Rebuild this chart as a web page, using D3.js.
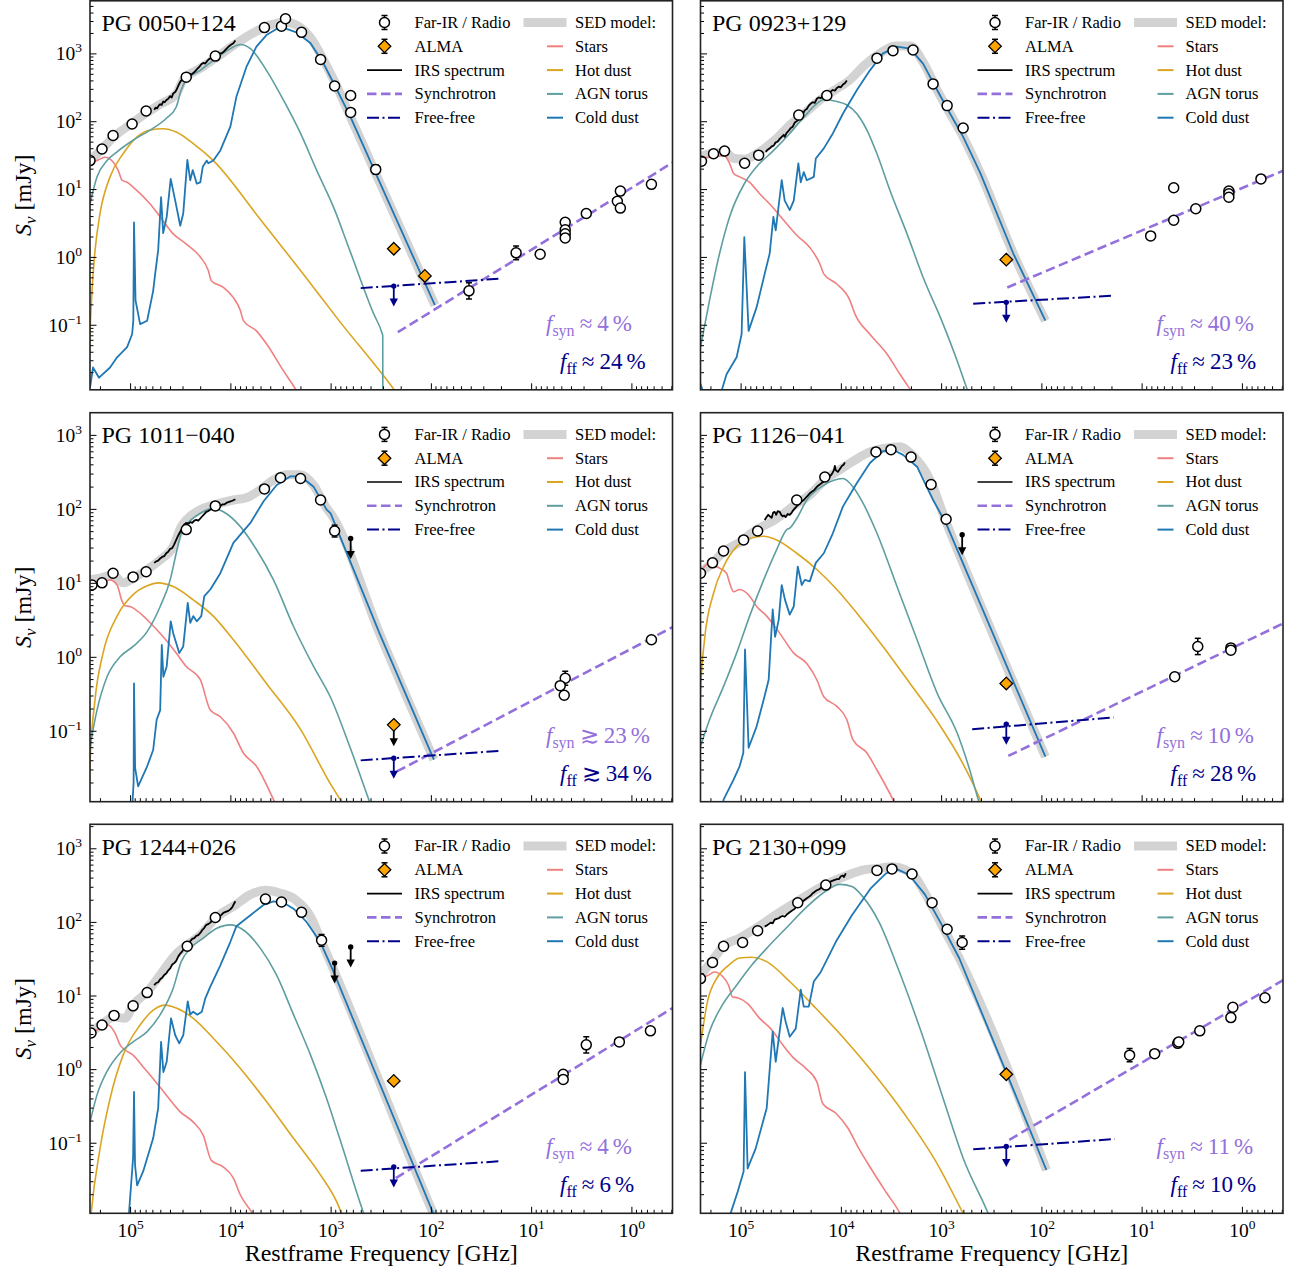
<!DOCTYPE html>
<html><head><meta charset="utf-8">
<script src="https://cdn.jsdelivr.net/npm/d3@7"></script>
<style>
 body{margin:0;background:#fff}
 svg{display:block}
 text{font-family:"Liberation Serif","Times New Roman",Times,serif}
</style></head><body>
<svg id="chart" width="1291" height="1270"></svg>
<script>
// Far-IR to radio spectral energy distributions of six PG quasars.
// Curves and points are [log10(nu / GHz), log10(S_nu / mJy)]; photometry adds an error in dex.

const sourceNames = ["PG 0050+124", "PG 0923+129", "PG 1011\u2212040", "PG 1126\u2212041", "PG 1244+026", "PG 2130+099"];
const synFraction = [["\u2248", 4], ["\u2248", 40], ["\u2273", 23], ["\u2248", 10], ["\u2248", 4], ["\u2248", 11]];
const ffFraction  = [["\u2248", 24], ["\u2248", 23], ["\u2273", 34], ["\u2248", 28], ["\u2248", 6], ["\u2248", 10]];
const freqTicks = [1e5, 1e4, 1e3, 1e2, 1e1, 1e0];
const fluxTicks = [1e-1, 1e0, 1e1, 1e2, 1e3];
const legendLeft = ["Far-IR / Radio", "ALMA", "IRS spectrum", "Synchrotron", "Free-free"];
const legendRight = ["SED model:", "Stars", "Hot dust", "AGN torus", "Cold dust"];

// ---------- PG 0050+124 ----------
const stars0050 = [[5.40,1.38],[5.33,1.42],[5.25,1.47],[5.17,1.40],[5.12,1.28],[5.08,1.13],[5.03,1.10],[4.97,1.03],[4.80,0.78],[4.70,0.59],[4.57,0.34],[4.44,0.19],[4.30,0.00],[4.22,-0.20],[4.19,-0.35],[4.07,-0.45],[3.97,-0.60],[3.90,-0.79],[3.87,-0.94],[3.74,-1.09],[3.64,-1.28],[3.47,-1.68],[3.35,-1.95],[3.20,-2.35]];
const hotDust0050 = [[5.41,-1.6],[5.40,-1.13],[5.38,-0.50],[5.35,0.09],[5.30,0.64],[5.20,1.18],[5.07,1.52],[4.93,1.77],[4.80,1.87],[4.67,1.89],[4.54,1.84],[4.37,1.67],[4.17,1.42],[3.70,0.55],[3.30,-0.20],[2.91,-0.95],[2.37,-1.95],[2.20,-2.3]];
const torus0050 = [[5.40,0.78],[5.33,1.18],[5.23,1.42],[5.13,1.55],[4.97,1.72],[4.80,1.87],[4.64,2.04],[4.54,2.21],[4.49,2.46],[4.44,2.61],[4.30,2.75],[4.14,2.93],[4.00,3.07],[3.90,3.13],[3.80,3.07],[3.64,2.75],[3.47,2.31],[3.30,1.82],[3.14,1.28],[2.97,0.73],[2.81,0.10],[2.57,-0.84],[2.49,-1.11],[2.48,-1.16],[2.479,-2.5]];
const coldDust0050 = [[5.40,-1.93],[5.37,-1.63],[5.31,-1.78],[5.20,-1.63],[5.13,-1.48],[5.03,-1.33],[4.98,-1.14],[4.968,-0.94],[4.961,0.51],[4.946,-0.64],[4.90,-0.99],[4.83,-0.94],[4.77,-0.50],[4.75,-0.25],[4.72,0.10],[4.691,0.88],[4.67,0.35],[4.635,0.59],[4.595,1.15],[4.55,0.83],[4.50,0.46],[4.47,0.64],[4.429,1.43],[4.40,1.13],[4.375,1.28],[4.335,1.08],[4.30,1.10],[4.275,1.33],[4.235,1.42],[4.22,1.38],[4.17,1.42],[4.10,1.57],[4.00,1.92],[3.94,2.36],[3.84,2.80],[3.74,3.10],[3.64,3.27],[3.54,3.36],[3.44,3.36],[3.34,3.31],[3.20,3.15],[3.07,2.85],[2.97,2.56],[2.81,2.09],[2.55,1.23],[1.96,-0.71]];
const sedModel0050 = [[5.40,1.42],[5.28,1.59],[5.17,1.76],[4.98,1.97],[4.84,2.12],[4.70,2.25],[4.54,2.40],[4.47,2.61],[4.30,2.78],[4.15,2.93],[3.95,3.14],[3.75,3.32],[3.60,3.42],[3.45,3.46],[3.32,3.40],[3.20,3.23],[3.07,2.90],[2.97,2.61],[2.81,2.09],[2.55,1.23],[1.96,-0.71]];
const irs0050 = [[4.76,2.17],[4.745,2.20],[4.73,2.19],[4.715,2.23],[4.70,2.25],[4.685,2.24],[4.67,2.29],[4.655,2.28],[4.64,2.31],[4.62,2.33],[4.60,2.37],[4.585,2.35],[4.57,2.41],[4.55,2.43],[4.535,2.47],[4.52,2.52],[4.50,2.58],[4.485,2.61],[4.47,2.64],[4.45,2.67],[4.43,2.68],[4.41,2.70],[4.39,2.69],[4.37,2.71],[4.35,2.74],[4.33,2.77],[4.31,2.80],[4.29,2.84],[4.27,2.86],[4.25,2.85],[4.23,2.89],[4.21,2.92],[4.19,2.93],[4.17,2.94],[4.15,2.96],[4.13,2.98],[4.11,3.00],[4.09,3.00],[4.07,3.02],[4.05,3.05],[4.03,3.08],[4.01,3.11],[3.99,3.13],[3.97,3.15],[3.95,3.19]];
const photometry0050 = [[5.40,1.42,0],[5.28,1.59,0],[5.17,1.79,0],[4.98,1.96,0],[4.84,2.15,0],[4.44,2.65,0],[4.15,2.96,0],[3.66,3.38,0],[3.49,3.40,0],[3.45,3.51,0],[3.29,3.31,0],[3.10,2.91,0],[2.96,2.52,0],[2.80,2.38,0],[2.80,2.13,0],[2.55,1.29,0.07],[1.62,-0.50,0.12],[1.15,0.06,0.10],[0.91,0.04,0],[0.66,0.51,0],[0.66,0.40,0],[0.66,0.34,0],[0.66,0.28,0],[0.45,0.64,0],[0.11,0.97,0],[0.14,0.82,0],[0.11,0.72,0],[-0.20,1.07,0]];
const limits0050 = [];
const alma0050 = [[2.37,0.12],[2.06,-0.28]];
const freeFree0050 = [[2.70,-0.46],[1.30,-0.32]];
const freeFreeLimit0050 = [2.37,-0.43];
const synchrotron0050 = [[2.33,-1.11],[-0.41,1.39]];

// ---------- PG 0923+129 ----------
const stars0923 = [[5.40,1.47],[5.27,1.47],[5.17,1.50],[5.11,1.38],[5.07,1.23],[5.01,1.18],[4.91,1.10],[4.81,0.93],[4.71,0.78],[4.57,0.54],[4.44,0.32],[4.31,0.14],[4.21,-0.10],[4.17,-0.25],[4.04,-0.40],[3.91,-0.64],[3.86,-0.84],[3.71,-1.14],[3.54,-1.43],[3.41,-1.73],[3.31,-1.95],[3.15,-2.3]];
const hotDust0923 = [];
const torus0923 = [[5.40,-1.33],[5.31,-0.64],[5.21,0.05],[5.11,0.59],[4.97,1.06],[4.84,1.33],[4.67,1.57],[4.51,1.82],[4.37,2.06],[4.24,2.26],[4.17,2.32],[4.04,2.29],[3.94,2.24],[3.84,2.11],[3.74,1.87],[3.64,1.52],[3.51,0.98],[3.34,0.34],[3.18,-0.30],[2.98,-0.99],[2.84,-1.53],[2.74,-1.95],[2.60,-2.4]];
const coldDust0923 = [[5.40,-1.87],[5.36,-2.05],[5.20,-2.05],[5.185,-1.95],[5.14,-1.73],[5.04,-1.48],[4.99,-1.14],[4.963,0.29],[4.92,-1.09],[4.84,-0.74],[4.76,-0.25],[4.71,0.05],[4.673,0.59],[4.65,0.39],[4.59,1.13],[4.56,0.83],[4.51,0.69],[4.47,0.83],[4.424,1.38],[4.40,1.10],[4.37,1.25],[4.34,1.13],[4.27,1.18],[4.25,1.45],[4.17,1.60],[4.08,1.82],[3.98,2.11],[3.84,2.46],[3.71,2.75],[3.58,3.00],[3.44,3.10],[3.31,3.07],[3.18,2.85],[3.04,2.46],[2.91,2.11],[2.78,1.77],[2.61,1.24],[2.28,0.05],[1.96,-0.94]];
const sedModel0923 = [[5.40,1.48],[5.28,1.53],[5.16,1.54],[5.06,1.45],[4.96,1.44],[4.81,1.55],[4.66,1.72],[4.51,1.94],[4.36,2.12],[4.21,2.31],[4.06,2.46],[3.91,2.61],[3.76,2.83],[3.61,3.00],[3.46,3.11],[3.31,3.11],[3.18,2.87],[3.04,2.46],[2.91,2.11],[2.78,1.77],[2.61,1.24],[2.28,0.05],[1.96,-0.94]];
const irs0923 = [[4.75,1.55],[4.73,1.58],[4.71,1.60],[4.69,1.63],[4.67,1.64],[4.65,1.69],[4.63,1.70],[4.61,1.74],[4.59,1.77],[4.57,1.80],[4.56,1.77],[4.54,1.83],[4.52,1.86],[4.50,1.90],[4.48,1.92],[4.46,1.98],[4.44,2.00],[4.42,2.03],[4.40,2.08],[4.38,2.10],[4.36,2.16],[4.34,2.18],[4.32,2.23],[4.30,2.26],[4.28,2.28],[4.26,2.27],[4.24,2.33],[4.22,2.35],[4.20,2.34],[4.18,2.38],[4.16,2.39],[4.14,2.42],[4.12,2.40],[4.10,2.44],[4.08,2.46],[4.06,2.45],[4.04,2.49],[4.02,2.51],[4.00,2.50],[3.98,2.54],[3.96,2.56],[3.94,2.60]];
const photometry0923 = [[5.39,1.41,0],[5.27,1.52,0],[5.16,1.56,0],[4.96,1.38,0],[4.82,1.50,0],[4.42,2.09,0],[4.14,2.38,0],[3.64,2.93,0],[3.48,3.04,0],[3.28,3.05,0],[3.08,2.55,0],[2.94,2.23,0],[2.78,1.90,0],[0.91,0.31,0],[0.68,1.02,0],[0.68,0.54,0],[0.46,0.71,0],[0.13,0.97,0],[0.13,0.93,0],[0.13,0.88,0],[-0.19,1.15,0]];
const limits0923 = [];
const alma0923 = [[2.35,-0.04]];
const freeFree0923 = [[2.68,-0.69],[1.28,-0.57]];
const freeFreeLimit0923 = [2.35,-0.67];
const synchrotron0923 = [[2.34,-0.45],[-0.41,1.27]];

// ---------- PG 1011-040 ----------
const stars1011 = [[5.40,1.02],[5.30,1.00],[5.20,1.04],[5.13,0.97],[5.08,0.75],[5.05,0.69],[5.00,0.68],[4.90,0.59],[4.80,0.46],[4.67,0.27],[4.54,0.05],[4.44,-0.13],[4.30,-0.31],[4.20,-0.72],[4.10,-0.81],[3.97,-1.03],[3.87,-1.30],[3.74,-1.48],[3.57,-1.93],[3.45,-2.3]];
const hotDust1011 = [[5.41,-1.9],[5.40,-1.44],[5.35,-0.58],[5.27,0.05],[5.13,0.55],[4.97,0.84],[4.83,0.96],[4.72,1.00],[4.57,0.95],[4.37,0.77],[4.17,0.55],[3.97,0.23],[3.64,-0.36],[3.30,-0.98],[3.005,-1.71],[2.905,-1.93],[2.75,-2.3]];
const torus1011 = [[5.40,-1.21],[5.33,-0.72],[5.23,-0.27],[5.10,0.00],[4.97,0.14],[4.83,0.34],[4.70,0.68],[4.60,1.04],[4.54,1.40],[4.49,1.67],[4.44,1.78],[4.30,1.94],[4.17,2.01],[4.07,1.96],[3.90,1.76],[3.74,1.45],[3.57,1.04],[3.37,0.41],[3.17,-0.13],[3.00,-0.55],[2.81,-1.21],[2.62,-1.93],[2.50,-2.4]];
const coldDust1011 = [[4.99,-2.3],[4.965,-1.7],[4.961,-0.36],[4.95,-1.50],[4.92,-1.75],[4.83,-1.48],[4.77,-1.26],[4.735,-0.85],[4.70,-0.72],[4.684,0.16],[4.668,-0.27],[4.635,-0.13],[4.595,0.48],[4.57,0.32],[4.51,0.05],[4.47,0.14],[4.425,0.73],[4.40,0.46],[4.37,0.55],[4.335,0.48],[4.29,0.55],[4.26,0.82],[4.20,0.91],[4.10,1.13],[3.97,1.54],[3.80,1.81],[3.67,2.10],[3.54,2.32],[3.40,2.44],[3.30,2.44],[3.17,2.30],[3.04,1.99],[3.00,1.94],[2.51,0.31],[1.97,-1.39]];
const sedModel1011 = [[5.40,1.04],[5.28,1.07],[5.17,1.11],[5.07,1.00],[4.97,1.06],[4.83,1.18],[4.70,1.31],[4.57,1.49],[4.49,1.76],[4.44,1.85],[4.30,1.99],[4.17,2.05],[3.97,2.12],[3.84,2.15],[3.70,2.26],[3.57,2.39],[3.44,2.46],[3.30,2.46],[3.17,2.32],[3.04,2.01],[3.00,1.94],[2.51,0.31],[1.97,-1.39]];
const irs1011 = [[4.76,1.27],[4.74,1.29],[4.72,1.30],[4.70,1.33],[4.68,1.35],[4.66,1.36],[4.64,1.40],[4.62,1.42],[4.60,1.46],[4.58,1.47],[4.56,1.52],[4.54,1.58],[4.52,1.64],[4.50,1.69],[4.48,1.74],[4.46,1.79],[4.44,1.81],[4.42,1.80],[4.40,1.82],[4.38,1.81],[4.36,1.84],[4.34,1.85],[4.32,1.84],[4.30,1.87],[4.28,1.90],[4.26,1.93],[4.24,1.96],[4.22,1.97],[4.20,1.99],[4.18,2.00],[4.16,2.02],[4.14,2.03],[4.12,2.02],[4.10,2.04],[4.08,2.06],[4.06,2.06],[4.04,2.08],[4.02,2.09],[4.00,2.10],[3.98,2.11],[3.95,2.13]];
const photometry1011 = [[5.38,0.97,0],[5.28,1.00,0],[5.17,1.13,0],[4.97,1.08,0],[4.84,1.15,0],[4.44,1.72,0],[4.15,2.04,0],[3.66,2.27,0],[3.50,2.42,0],[3.30,2.41,0],[3.10,2.12,0],[2.96,1.70,0.08],[0.66,-0.29,0.095],[0.71,-0.39,0],[0.67,-0.52,0],[-0.20,0.23,0]];
const limits1011 = [[2.80,1.60]];
const alma1011 = [[2.37,-0.92]];
const freeFree1011 = [[2.70,-1.40],[1.30,-1.27]];
const freeFreeLimit1011 = [2.37,-1.37];
const synchrotron1011 = [[2.34,-1.55],[-0.41,0.40]];

// ---------- PG 1126-041 ----------
const stars1126 = [[5.40,1.15],[5.31,1.27],[5.24,1.22],[5.14,1.13],[5.11,1.00],[5.07,0.88],[5.01,0.91],[4.91,0.82],[4.84,0.68],[4.74,0.55],[4.61,0.32],[4.47,0.05],[4.34,-0.09],[4.24,-0.31],[4.17,-0.54],[4.04,-0.67],[3.94,-0.85],[3.88,-1.12],[3.74,-1.30],[3.64,-1.53],[3.48,-1.93],[3.35,-2.3]];
const hotDust1126 = [[5.41,-1.0],[5.40,-0.49],[5.36,0.23],[5.27,0.86],[5.17,1.22],[5.04,1.49],[4.91,1.60],[4.77,1.63],[4.64,1.58],[4.44,1.40],[4.24,1.18],[4.04,0.91],[3.84,0.59],[3.58,0.14],[3.31,-0.36],[3.04,-0.87],[2.78,-1.45],[2.61,-1.93],[2.50,-2.3]];
const torus1126 = [[5.40,-1.21],[5.31,-0.85],[5.17,-0.40],[5.04,0.05],[4.91,0.55],[4.77,1.04],[4.64,1.45],[4.54,1.72],[4.51,1.74],[4.44,1.87],[4.34,2.12],[4.17,2.32],[3.98,2.41],[3.88,2.30],[3.78,2.08],[3.64,1.67],[3.44,0.95],[3.24,0.23],[3.04,-0.49],[2.84,-1.03],[2.71,-1.55],[2.63,-1.93],[2.50,-2.4]];
const coldDust1126 = [[5.20,-2.3],[5.17,-1.93],[5.07,-1.66],[5.01,-1.48],[4.973,-1.30],[4.956,0.10],[4.92,-1.23],[4.84,-0.94],[4.77,-0.58],[4.72,-0.31],[4.68,0.64],[4.656,0.27],[4.62,0.50],[4.59,0.97],[4.557,0.77],[4.51,0.57],[4.47,0.68],[4.43,1.22],[4.39,0.97],[4.36,1.04],[4.31,1.02],[4.25,1.27],[4.17,1.40],[4.08,1.67],[3.98,2.03],[3.84,2.35],[3.71,2.62],[3.58,2.78],[3.48,2.80],[3.38,2.73],[3.24,2.57],[3.08,2.12],[2.95,1.80],[2.74,1.13],[1.96,-1.35]];
const sedModel1126 = [[5.40,1.14],[5.28,1.27],[5.16,1.43],[5.01,1.55],[4.84,1.72],[4.66,1.85],[4.46,2.05],[4.31,2.19],[4.16,2.39],[4.01,2.53],[3.86,2.66],[3.71,2.77],[3.56,2.82],[3.41,2.84],[3.29,2.73],[3.11,2.39],[2.95,1.82],[2.74,1.13],[1.96,-1.35]];
const irs1126 = [[4.76,1.85],[4.74,1.89],[4.725,1.92],[4.71,1.90],[4.69,1.88],[4.675,1.95],[4.66,1.96],[4.645,1.92],[4.63,1.97],[4.61,1.96],[4.595,1.92],[4.58,1.90],[4.565,1.91],[4.55,1.89],[4.53,1.93],[4.51,1.92],[4.49,1.95],[4.47,1.99],[4.45,2.02],[4.43,2.05],[4.41,2.07],[4.39,2.10],[4.37,2.12],[4.35,2.15],[4.33,2.18],[4.31,2.21],[4.29,2.23],[4.27,2.25],[4.25,2.28],[4.23,2.31],[4.21,2.33],[4.19,2.35],[4.17,2.37],[4.15,2.39],[4.13,2.41],[4.11,2.44],[4.09,2.47],[4.07,2.52],[4.06,2.58],[4.05,2.52],[4.03,2.50],[4.01,2.54],[3.99,2.58],[3.97,2.60],[3.96,2.63]];
const photometry1126 = [[5.40,1.13,0],[5.28,1.27,0],[5.17,1.43,0],[4.97,1.58,0],[4.83,1.70,0],[4.44,2.12,0],[4.16,2.43,0],[3.65,2.77,0],[3.50,2.80,0],[3.30,2.70,0],[3.10,2.33,0],[2.95,1.86,0],[0.67,-0.27,0],[0.44,0.14,0.11],[0.11,0.12,0],[0.11,0.09,0]];
const limits1126 = [[2.79,1.65]];
const alma1126 = [[2.35,-0.36]];
const freeFree1126 = [[2.69,-0.98],[1.28,-0.82]];
const freeFreeLimit1126 = [2.35,-0.91];
const synchrotron1126 = [[2.33,-1.34],[-0.41,0.45]];

// ---------- PG 1244+026 ----------
const stars1244 = [[5.40,0.49],[5.30,0.55],[5.22,0.60],[5.15,0.49],[5.10,0.33],[5.05,0.26],[4.97,0.19],[4.87,0.03],[4.77,-0.13],[4.64,-0.35],[4.50,-0.58],[4.37,-0.72],[4.27,-0.90],[4.19,-1.24],[4.07,-1.33],[3.97,-1.48],[3.90,-1.71],[3.77,-1.98],[3.65,-2.3]];
const hotDust1244 = [[5.42,-2.5],[5.39,-1.98],[5.30,-1.08],[5.20,-0.40],[5.07,0.19],[4.90,0.60],[4.77,0.80],[4.65,0.87],[4.54,0.83],[4.37,0.69],[4.17,0.42],[3.90,0.01],[3.64,-0.44],[3.37,-0.94],[3.10,-1.44],[2.94,-1.80],[2.80,-2.3]];
const torus1244 = [[5.40,-0.72],[5.33,-0.35],[5.23,-0.03],[5.10,0.22],[4.97,0.37],[4.83,0.51],[4.70,0.74],[4.57,1.10],[4.49,1.46],[4.40,1.64],[4.27,1.78],[4.14,1.91],[4.00,1.96],[3.87,1.89],[3.70,1.64],[3.54,1.28],[3.37,0.74],[3.20,0.19],[3.04,-0.40],[2.91,-0.94],[2.67,-1.96],[2.55,-2.4]];
const coldDust1244 = [[5.03,-2.3],[4.97,-1.2],[4.961,-0.31],[4.951,-1.30],[4.93,-1.58],[4.87,-1.39],[4.77,-0.94],[4.72,-0.53],[4.691,0.37],[4.668,-0.04],[4.635,0.10],[4.592,0.69],[4.55,0.46],[4.51,0.35],[4.47,0.46],[4.425,0.92],[4.40,0.74],[4.37,0.78],[4.33,0.74],[4.285,0.78],[4.25,0.96],[4.20,1.12],[4.10,1.41],[4.00,1.73],[3.94,1.94],[3.80,2.09],[3.67,2.23],[3.57,2.28],[3.47,2.26],[3.37,2.18],[3.24,2.00],[3.10,1.72],[2.97,1.32],[1.97,-1.98],[1.90,-2.2]];
const sedModel1244 = [[5.40,0.49],[5.28,0.61],[5.16,0.71],[5.05,0.69],[4.97,0.87],[4.83,1.05],[4.70,1.28],[4.55,1.55],[4.42,1.70],[4.30,1.82],[4.15,2.05],[3.95,2.23],[3.80,2.37],[3.65,2.43],[3.50,2.39],[3.35,2.30],[3.20,2.07],[3.10,1.76],[2.97,1.35],[1.97,-1.98],[1.90,-2.2]];
const irs1244 = [[4.76,1.14],[4.74,1.17],[4.72,1.18],[4.70,1.22],[4.68,1.24],[4.66,1.28],[4.64,1.30],[4.62,1.34],[4.60,1.37],[4.58,1.42],[4.56,1.44],[4.54,1.47],[4.52,1.53],[4.50,1.57],[4.48,1.60],[4.46,1.64],[4.44,1.67],[4.42,1.70],[4.40,1.74],[4.38,1.77],[4.36,1.78],[4.34,1.81],[4.32,1.82],[4.30,1.85],[4.28,1.89],[4.26,1.92],[4.24,1.96],[4.22,1.97],[4.20,1.99],[4.18,2.02],[4.16,2.04],[4.14,2.05],[4.12,2.07],[4.10,2.08],[4.08,2.11],[4.06,2.13],[4.04,2.14],[4.02,2.15],[4.00,2.17],[3.98,2.20],[3.97,2.23],[3.95,2.28]];
const photometry1244 = [[5.39,0.49,0],[5.28,0.60,0],[5.16,0.73,0],[4.97,0.86,0],[4.83,1.04,0],[4.43,1.67,0],[4.15,2.06,0],[3.65,2.31,0],[3.49,2.27,0],[3.29,2.13,0],[3.09,1.75,0.08],[0.68,-0.07,0],[0.68,-0.14,0],[0.45,0.33,0.11],[0.12,0.37,0],[-0.19,0.52,0]];
const limits1244 = [[2.96,1.44],[2.80,1.66]];
const alma1244 = [[2.37,-0.16]];
const freeFree1244 = [[2.70,-1.38],[1.30,-1.25]];
const freeFreeLimit1244 = [2.37,-1.33];
const synchrotron1244 = [[2.35,-1.48],[-0.41,0.83]];

// ---------- PG 2130+099 ----------
const stars2130 = [[5.40,1.23],[5.33,1.27],[5.26,1.32],[5.18,1.26],[5.12,1.14],[5.08,0.98],[5.03,0.97],[4.93,0.89],[4.81,0.69],[4.70,0.55],[4.58,0.33],[4.47,0.15],[4.35,0.01],[4.24,-0.17],[4.18,-0.47],[4.05,-0.60],[3.93,-0.80],[3.82,-1.08],[3.70,-1.35],[3.55,-1.67],[3.41,-1.96],[3.30,-2.3]];
const hotDust2130 = [[5.40,0.33],[5.33,0.92],[5.24,1.23],[5.12,1.41],[5.01,1.51],[4.89,1.52],[4.74,1.46],[4.51,1.19],[4.28,0.87],[3.97,0.42],[3.66,-0.08],[3.36,-0.62],[3.05,-1.26],[2.78,-1.96],[2.65,-2.3]];
const torus2130 = [[5.40,0.06],[5.31,0.51],[5.20,0.83],[5.04,1.14],[4.89,1.41],[4.74,1.64],[4.55,1.91],[4.35,2.19],[4.16,2.41],[4.01,2.51],[3.89,2.48],[3.78,2.34],[3.62,2.00],[3.43,1.37],[3.20,0.51],[2.97,-0.44],[2.78,-1.21],[2.53,-1.96],[2.40,-2.4]];
const coldDust2130 = [[5.15,-2.4],[5.10,-1.96],[5.03,-1.67],[4.97,-1.39],[4.956,-0.04],[4.93,-1.35],[4.85,-1.08],[4.74,-0.53],[4.68,0.51],[4.65,0.10],[4.58,0.83],[4.55,0.64],[4.51,0.44],[4.45,0.55],[4.40,1.08],[4.37,0.85],[4.32,0.85],[4.27,1.19],[4.20,1.32],[4.05,1.73],[3.89,2.09],[3.70,2.46],[3.55,2.66],[3.43,2.71],[3.32,2.64],[3.16,2.37],[3.01,2.00],[2.82,1.51],[1.95,-1.37]];
const sedModel2130 = [[5.40,1.27],[5.28,1.48],[5.17,1.67],[5.01,1.78],[4.84,1.92],[4.61,2.13],[4.41,2.30],[4.16,2.50],[3.96,2.62],[3.76,2.71],[3.61,2.73],[3.49,2.75],[3.36,2.71],[3.26,2.61],[3.16,2.39],[3.01,2.00],[2.82,1.51],[1.95,-1.37]];
const irs2130 = [[4.76,1.94],[4.74,1.95],[4.72,1.97],[4.70,1.99],[4.68,1.98],[4.66,2.03],[4.64,2.04],[4.62,2.05],[4.60,2.07],[4.58,2.08],[4.56,2.07],[4.54,2.10],[4.52,2.12],[4.50,2.14],[4.48,2.16],[4.46,2.18],[4.44,2.21],[4.42,2.23],[4.40,2.26],[4.38,2.28],[4.36,2.30],[4.34,2.32],[4.32,2.34],[4.30,2.36],[4.28,2.39],[4.26,2.41],[4.24,2.43],[4.22,2.44],[4.20,2.46],[4.18,2.48],[4.16,2.50],[4.14,2.51],[4.12,2.53],[4.10,2.55],[4.08,2.56],[4.06,2.57],[4.04,2.58],[4.02,2.58],[4.00,2.62],[3.98,2.63],[3.97,2.61],[3.95,2.66]];
const photometry2130 = [[5.40,1.23,0],[5.28,1.45,0],[5.17,1.67,0],[4.98,1.72,0],[4.83,1.88,0],[4.43,2.26,0],[4.15,2.50,0],[3.64,2.70,0],[3.49,2.72,0],[3.29,2.65,0],[3.09,2.26,0],[2.94,1.90,0],[2.79,1.72,0.09],[1.12,0.19,0.09],[0.87,0.21,0],[0.64,0.35,0],[0.63,0.37,0],[0.42,0.52,0],[0.11,0.70,0],[0.09,0.84,0],[-0.23,0.97,0]];
const limits2130 = [];
const alma2130 = [[2.35,-0.07]];
const freeFree2130 = [[2.68,-1.09],[1.27,-0.95]];
const freeFreeLimit2130 = [2.35,-1.05];
const synchrotron2130 = [[2.32,-0.96],[-0.44,1.23]];

const sources = [
  {col:0,row:0,stars:stars0050,hot:hotDust0050,torus:torus0050,cold:coldDust0050,sed:sedModel0050,irs:irs0050,phot:photometry0050,limits:limits0050,alma:alma0050,almaLimit:false,ff:freeFree0050,ffLimit:freeFreeLimit0050,syn:synchrotron0050},
  {col:1,row:0,stars:stars0923,hot:hotDust0923,torus:torus0923,cold:coldDust0923,sed:sedModel0923,irs:irs0923,phot:photometry0923,limits:limits0923,alma:alma0923,almaLimit:false,ff:freeFree0923,ffLimit:freeFreeLimit0923,syn:synchrotron0923},
  {col:0,row:1,stars:stars1011,hot:hotDust1011,torus:torus1011,cold:coldDust1011,sed:sedModel1011,irs:irs1011,phot:photometry1011,limits:limits1011,alma:alma1011,almaLimit:true,ff:freeFree1011,ffLimit:freeFreeLimit1011,syn:synchrotron1011},
  {col:1,row:1,stars:stars1126,hot:hotDust1126,torus:torus1126,cold:coldDust1126,sed:sedModel1126,irs:irs1126,phot:photometry1126,limits:limits1126,alma:alma1126,almaLimit:false,ff:freeFree1126,ffLimit:freeFreeLimit1126,syn:synchrotron1126},
  {col:0,row:2,stars:stars1244,hot:hotDust1244,torus:torus1244,cold:coldDust1244,sed:sedModel1244,irs:irs1244,phot:photometry1244,limits:limits1244,alma:alma1244,almaLimit:false,ff:freeFree1244,ffLimit:freeFreeLimit1244,syn:synchrotron1244},
  {col:1,row:2,stars:stars2130,hot:hotDust2130,torus:torus2130,cold:coldDust2130,sed:sedModel2130,irs:irs2130,phot:photometry2130,limits:limits2130,alma:alma2130,almaLimit:false,ff:freeFree2130,ffLimit:freeFreeLimit2130,syn:synchrotron2130}
];
sources.forEach((s, i) => { s.name = sourceNames[i]; s.fSyn = synFraction[i]; s.fFF = ffFraction[i]; });

// ---------- layout ----------
const colLeft = [90, 700.5], panelW = 582.5;
const rowTop = [0.8, 412.7, 824.3], panelH = 389;
const freqDomain = [Math.pow(10, 5.4), Math.pow(10, -0.41)];
const fluxDomain = [[0.011, 5957], [0.011, 1995], [0.011, 2118]];
const C = {stars:"#f08080", hot:"#daa520", torus:"#5f9ea0", cold:"#1f77b4", sed:"#d3d3d3",
           syn:"#9370db", ff:"#00008b", alma:"#ffa500", frame:"#222"};

const svg = d3.select("#chart");

function minorTicks(lo, hi) {
  const out = [];
  for (let e = Math.floor(Math.log10(lo)); e <= Math.ceil(Math.log10(hi)); e++)
    for (let k = 2; k <= 9; k++) { const v = k * Math.pow(10, e); if (v >= lo && v <= hi) out.push(v); }
  return out;
}
function powerLabel(text, d) {
  const e = Math.round(Math.log10(d));
  text.text(null);
  text.append("tspan").text("10");
  text.append("tspan").attr("dy", -8).attr("font-size", 13.5).text(e < 0 ? "\u2212" + (-e) : String(e));
}
function arrowDown(sel, px, py, color, withDot) {
  if (withDot) sel.append("circle").attr("cx", px).attr("cy", py).attr("r", 2.7).attr("fill", color);
  sel.append("line").attr("x1", px).attr("x2", px).attr("y1", py).attr("y2", py + 14)
     .attr("stroke", color).attr("stroke-width", 1.8);
  sel.append("path").attr("d", `M${px - 4.2},${py + 12.5}L${px + 4.2},${py + 12.5}L${px},${py + 20.5}Z`).attr("fill", color);
}
const diamond = r => `M0,${-r}L${r},0L0,${r}L${-r},0Z`;

sources.forEach((s, i) => {
  const g = svg.append("g").attr("transform", `translate(${colLeft[s.col]},${rowTop[s.row]})`);
  const x = d3.scaleLog().domain(freqDomain).range([0, panelW]);
  const y = d3.scaleLog().domain(fluxDomain[s.row]).range([panelH, 0]);
  const X = d => x(Math.pow(10, d[0])), Y = d => y(Math.pow(10, d[1]));

  g.append("clipPath").attr("id", "clip" + i).append("rect").attr("width", panelW).attr("height", panelH);
  const plot = g.append("g").attr("clip-path", `url(#clip${i})`);

  const smooth = d3.line().x(X).y(Y).curve(d3.curveMonotoneX);
  const sharp = d3.line().x(X).y(Y);

  // total model band
  plot.append("path").attr("d", smooth(s.sed)).attr("fill", "none").attr("stroke", C.sed)
      .attr("stroke-width", 9).attr("stroke-linejoin", "round");
  // components
  if (s.stars.length) plot.append("path").attr("d", smooth(s.stars)).attr("fill", "none").attr("stroke", C.stars).attr("stroke-width", 1.6);
  if (s.hot.length) plot.append("path").attr("d", smooth(s.hot)).attr("fill", "none").attr("stroke", C.hot).attr("stroke-width", 1.6);
  plot.append("path").attr("d", smooth(s.torus)).attr("fill", "none").attr("stroke", C.torus).attr("stroke-width", 1.6);
  plot.append("path").attr("d", sharp(s.cold)).attr("fill", "none").attr("stroke", C.cold).attr("stroke-width", 1.8).attr("stroke-linejoin", "round");
  plot.append("path").attr("d", sharp(s.irs)).attr("fill", "none").attr("stroke", "#000").attr("stroke-width", 1.8).attr("stroke-linejoin", "round");
  // radio power laws
  plot.append("path").attr("d", sharp(s.syn)).attr("fill", "none").attr("stroke", C.syn)
      .attr("stroke-width", 2.6).attr("stroke-dasharray", "9.5 4.5");
  plot.append("path").attr("d", sharp(s.ff)).attr("fill", "none").attr("stroke", C.ff)
      .attr("stroke-width", 2).attr("stroke-dasharray", "12 3.5 2 3.5");
  arrowDown(plot, X(s.ffLimit), Y(s.ffLimit), C.ff, true);

  // photometry
  s.phot.filter(d => d[2] > 0).forEach(d => {
    const px = X(d), y1 = y(Math.pow(10, d[1] - d[2])), y2 = y(Math.pow(10, d[1] + d[2]));
    plot.append("line").attr("x1", px).attr("x2", px).attr("y1", y1).attr("y2", y2).attr("stroke", "#000").attr("stroke-width", 1.5);
    [y1, y2].forEach(yy => plot.append("line").attr("x1", px - 3).attr("x2", px + 3).attr("y1", yy).attr("y2", yy).attr("stroke", "#000").attr("stroke-width", 1.5));
  });
  plot.selectAll("circle.phot").data(s.phot).join("circle").attr("class", "phot")
      .attr("cx", X).attr("cy", Y).attr("r", 5).attr("fill", "#fff").attr("stroke", "#000").attr("stroke-width", 1.5);
  s.limits.forEach(d => arrowDown(plot, X(d), Y(d), "#000", true));
  s.alma.forEach(d => {
    if (s.almaLimit) arrowDown(plot, X(d), Y(d) + 1, "#000", false);
    plot.append("path").attr("d", diamond(6.3)).attr("transform", `translate(${X(d)},${Y(d)})`)
        .attr("fill", C.alma).attr("stroke", "#000").attr("stroke-width", 1.3);
  });

  // axes
  const bottom = g.append("g").attr("transform", `translate(0,${panelH})`)
    .call(d3.axisBottom(x).tickValues(freqTicks).tickSize(-6.5).tickFormat(d => d));
  bottom.select(".domain").remove();
  if (s.row === 2) {
    bottom.attr("font-size", 19.5).selectAll(".tick text").attr("y", 24).attr("dy", null).attr("fill", "#000")
      .each(function (d) { powerLabel(d3.select(this), d); });
  } else bottom.selectAll(".tick text").remove();
  const bottomMinor = g.append("g").attr("transform", `translate(0,${panelH})`)
    .call(d3.axisBottom(x).tickValues(minorTicks(freqDomain[1], freqDomain[0])).tickSize(-3.5).tickFormat(""));
  bottomMinor.select(".domain").remove();

  const left = g.append("g").call(d3.axisLeft(y).tickValues(fluxTicks).tickSize(-6.5).tickFormat(d => d));
  left.select(".domain").remove();
  if (s.col === 0) {
    left.attr("font-size", 19.5).selectAll(".tick text").attr("x", -8).attr("dy", null).attr("y", 6.5).attr("fill", "#000")
      .each(function (d) { powerLabel(d3.select(this), d); });
  } else left.selectAll(".tick text").remove();
  const leftMinor = g.append("g").call(d3.axisLeft(y).tickValues(minorTicks(fluxDomain[s.row][0], fluxDomain[s.row][1])).tickSize(-3.5).tickFormat(""));
  leftMinor.select(".domain").remove();
  g.selectAll(".tick line").attr("stroke", "#000").attr("stroke-width", 1);

  g.append("rect").attr("width", panelW).attr("height", panelH).attr("fill", "none")
   .attr("stroke", C.frame).attr("stroke-width", 1.6);

  // source name
  g.append("text").attr("x", 11.5).attr("y", 30.5).attr("font-size", 24).text(s.name);

  // legend
  const lg = g.append("g");
  const rowY = k => 21.7 + 23.8 * k;
  const mx = 294.5;
  [0, 1].forEach(k => {
    const cy = rowY(k);
    lg.append("line").attr("x1", mx).attr("x2", mx).attr("y1", cy - 7).attr("y2", cy + 7).attr("stroke", "#000").attr("stroke-width", 1.5);
    [cy - 7, cy + 7].forEach(yy => lg.append("line").attr("x1", mx - 3).attr("x2", mx + 3).attr("y1", yy).attr("y2", yy).attr("stroke", "#000").attr("stroke-width", 1.5));
  });
  lg.append("circle").attr("cx", mx).attr("cy", rowY(0)).attr("r", 5).attr("fill", "#fff").attr("stroke", "#000").attr("stroke-width", 1.5);
  lg.append("path").attr("d", diamond(6.3)).attr("transform", `translate(${mx},${rowY(1)})`).attr("fill", C.alma).attr("stroke", "#000").attr("stroke-width", 1.3);
  lg.append("line").attr("x1", 277).attr("x2", 312).attr("y1", rowY(2)).attr("y2", rowY(2)).attr("stroke", "#000").attr("stroke-width", 1.7);
  lg.append("line").attr("x1", 277).attr("x2", 312).attr("y1", rowY(3)).attr("y2", rowY(3)).attr("stroke", C.syn).attr("stroke-width", 2.6).attr("stroke-dasharray", "9.5 4.5");
  lg.append("line").attr("x1", 277).attr("x2", 312).attr("y1", rowY(4)).attr("y2", rowY(4)).attr("stroke", C.ff).attr("stroke-width", 2).attr("stroke-dasharray", "12 3.5 2 3.5");
  legendLeft.forEach((t, k) => lg.append("text").attr("x", 324.5).attr("y", rowY(k) + 5.5).attr("font-size", 16.5).text(t));
  lg.append("line").attr("x1", 433.5).attr("x2", 476.5).attr("y1", rowY(0)).attr("y2", rowY(0)).attr("stroke", C.sed).attr("stroke-width", 9);
  [C.stars, C.hot, C.torus, C.cold].forEach((c, k) =>
    lg.append("line").attr("x1", 457).attr("x2", 473).attr("y1", rowY(k + 1)).attr("y2", rowY(k + 1)).attr("stroke", c).attr("stroke-width", 2));
  legendRight.forEach((t, k) => lg.append("text").attr("x", 485).attr("y", rowY(k) + 5.5).attr("font-size", 16.5).text(t));

  // radio fractions
  const frac = (xl, yb, sub, f, color) => {
    const t = g.append("text").attr("x", xl).attr("y", yb).attr("font-size", 23).attr("fill", color);
    t.append("tspan").attr("font-style", "italic").text("f");
    t.append("tspan").attr("font-size", 16).attr("dy", 5).text(sub);
    t.append("tspan").attr("dy", -5).attr("dx", 5).text(f[0]);
    t.append("tspan").attr("dx", 5).text(String(f[1]));
    t.append("tspan").attr("dx", 4).text("%");
  };
  frac(456, 330, "syn", s.fSyn, C.syn);
  frac(470, 368, "ff", s.fFF, C.ff);
});

// axis titles
rowTop.forEach(t => {
  const yl = svg.append("text").attr("transform", `translate(31,${t + panelH / 2}) rotate(-90)`)
    .attr("text-anchor", "middle").attr("font-size", 24);
  yl.append("tspan").attr("font-style", "italic").text("S");
  yl.append("tspan").attr("font-style", "italic").attr("font-size", 17).attr("dy", 5).text("\u03bd");
  yl.append("tspan").attr("dy", -5).text(" [mJy]");
});
colLeft.forEach(l => {
  svg.append("text").attr("x", l + panelW / 2).attr("y", 1261).attr("text-anchor", "middle")
    .attr("font-size", 24).text("Restframe Frequency [GHz]");
});
</script></body></html>
